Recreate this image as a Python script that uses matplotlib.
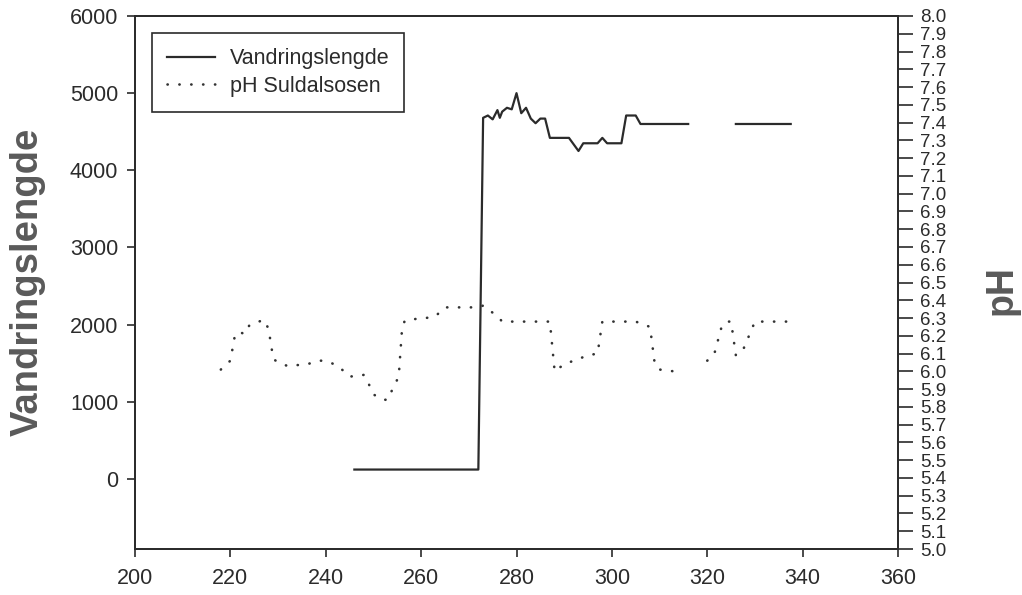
import numpy as np
import matplotlib
matplotlib.use("Agg")
import matplotlib.pyplot as plt

plt.rcParams['font.family'] = ['Liberation Sans', 'DejaVu Sans']

# Vandringslengde (left axis)
vl_day = [246, 272, 273, 274, 275, 276, 276.5, 277, 278, 279, 280, 281, 282,
          283, 284, 285, 286, 287, 291, 293, 294, 297, 298, 299, 302, 303,
          305, 306, 316, 321, 326, 337.5]
vl_val = [120, 120, 4680, 4710, 4660, 4780, 4680, 4760, 4810, 4790, 5000,
          4740, 4810, 4670, 4610, 4670, 4670, 4420, 4420, 4250, 4350, 4350,
          4420, 4350, 4350, 4710, 4710, 4600, 4600, np.nan, 4600, 4600]

# pH Suldalsosen (right axis)
ph_day = [218, 220, 221, 222, 223, 224, 227, 228, 229, 230, 232, 236, 239,
          241, 243, 245, 248, 249, 250, 252, 253, 254, 255.3, 256, 256.5,
          257, 261, 263, 265, 272, 273, 274, 276, 277, 287, 288, 290, 293,
          295, 297, 298, 305, 306, 308, 309, 310, 313, 316, 320, 321.5, 323,
          324, 325, 326, 327.5, 330, 337]
ph_val = [6.01, 6.06, 6.21, 6.22, 6.21, 6.26, 6.29, 6.24, 6.07, 6.05, 6.03,
          6.04, 6.06, 6.05, 6.02, 5.97, 5.98, 5.93, 5.87, 5.84, 5.84, 5.90,
          5.97, 6.24, 6.28, 6.29, 6.30, 6.31, 6.36, 6.36, 6.37, 6.35, 6.31,
          6.28, 6.28, 6.00, 6.04, 6.07, 6.09, 6.10, 6.28, 6.28, 6.27, 6.25,
          6.04, 6.01, 6.00, np.nan, 6.06, 6.10, 6.25, 6.28, 6.28, 6.09, 6.12,
          6.28, 6.28]

x_ticks = [200, 220, 240, 260, 280, 300, 320, 340, 360]
y_ticks = [0, 1000, 2000, 3000, 4000, 5000, 6000]
ph_ticks = [round(5.0 + 0.1 * i, 1) for i in range(31)]

ink = '#2b2b2b'
fig = plt.figure(figsize=(10.22, 5.95), dpi=100)
ax = fig.add_axes([135 / 1022, 1 - 549 / 595, (898 - 135) / 1022, (549 - 16) / 595])
ax2 = ax.twinx()

l1, = ax.plot(vl_day, vl_val, color=ink, lw=1.6, label='Vandringslengde')
l2, = ax2.plot(ph_day, ph_val, color='#333333', lw=1.9, linestyle=(0, (0.1, 4.4)),
               dash_capstyle='round', label='pH Suldalsosen')

ax.set_xlim(200, 360)
ax.set_ylim(-910, 6000)
ax2.set_ylim(5.0, 8.0)
ax.set_xticks(x_ticks)
ax.set_yticks(y_ticks)
ax2.set_yticks(ph_ticks)
ax2.set_yticklabels([f"{t:.1f}" for t in ph_ticks])

for a in (ax, ax2):
    for s in a.spines.values():
        s.set_color(ink)
        s.set_linewidth(1.3)

ax.tick_params(axis='x', direction='out', length=6, width=1.2, pad=8,
               labelsize=15.5, colors=ink)
ax.tick_params(axis='y', direction='out', length=6, width=1.2, pad=6,
               labelsize=15.5, colors=ink)
ax2.tick_params(axis='y', direction='out', length=11, width=1.2, pad=5,
                labelsize=13.5, colors=ink)

fig.text(28 / 1022, 1 - 282 / 595, 'Vandringslengde', rotation=90,
         ha='center', va='center', fontsize=27.5, fontweight='bold', color='#5a5a5a')
fig.text(1002 / 1022, 1 - 290 / 595, 'pH', rotation=90,
         ha='center', va='center', fontsize=27, fontweight='bold', color='#5a5a5a')

leg = ax.legend(handles=[l1, l2], loc='upper left', fontsize=15.5,
                frameon=True, fancybox=False, framealpha=1, edgecolor=ink,
                handlelength=2.2, handletextpad=0.7, borderpad=0.7,
                labelspacing=0.3, borderaxespad=0.8)
leg.get_frame().set_linewidth(1.2)
for t in leg.get_texts():
    t.set_color(ink)

fig.savefig('out.png', dpi=100, facecolor='white')
